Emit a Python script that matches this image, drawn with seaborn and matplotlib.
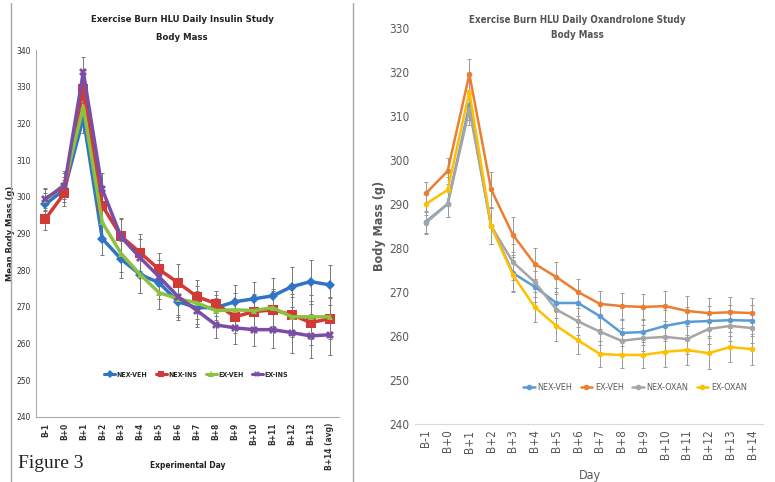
import matplotlib
matplotlib.use("Agg")
import matplotlib.pyplot as plt
import seaborn as sns
import pandas as pd
import numpy as np
from matplotlib.lines import Line2D

sns.set_theme(style="white")
plt.rcParams['font.family'] = ['Liberation Sans', 'DejaVu Sans']

# ---------------- Left panel data (Insulin study) ----------------
ins_days = ["B-1", "B+0", "B+1", "B+2", "B+3", "B+4", "B+5", "B+6", "B+7", "B+8",
            "B+9", "B+10", "B+11", "B+12", "B+13", "B+14 (avg)"]
ins_groups = ["NEX-VEH", "NEX-INS", "EX-VEH", "EX-INS"]
nex_veh_ins = [298.0, 302.0, 321.5, 288.6, 283.0, 278.8, 276.6, 271.4, 269.8, 269.8,
               271.4, 272.2, 273.0, 275.5, 276.9, 276.0]
nex_ins = [294.0, 301.0, 329.5, 297.6, 289.2, 284.8, 280.2, 276.6, 272.8, 270.9,
           267.3, 268.7, 269.2, 267.9, 265.7, 266.8]
ex_veh_ins = [299.0, 303.5, 324.5, 293.0, 284.5, 278.8, 273.9, 272.2, 271.1, 269.0,
              269.2, 269.0, 269.8, 267.3, 267.3, 267.3]
ex_ins = [299.5, 303.0, 334.0, 302.0, 289.0, 283.4, 278.2, 272.8, 269.0, 265.1,
          264.3, 263.8, 263.8, 263.0, 262.1, 262.4]
ins_err = [3.0, 3.5, 4.0, 4.5, 5.0, 5.0, 4.5, 5.0, 4.5, 3.5, 4.5, 4.5, 5.0, 5.5, 6.0, 5.5]

# ---------------- Right panel data (Oxandrolone study) ----------------
ox_days = ["B-1", "B+0", "B+1", "B+2", "B+3", "B+4", "B+5", "B+6", "B+7", "B+8",
           "B+9", "B+10", "B+11", "B+12", "B+13", "B+14"]
ox_groups = ["NEX-VEH", "EX-VEH", "NEX-OXAN", "EX-OXAN"]
nex_veh_ox = [286.0, 290.0, 312.5, 285.0, 274.3, 271.2, 267.5, 267.5, 264.5, 260.7,
              260.9, 262.3, 263.2, 263.4, 263.6, 263.5]
ex_veh_ox = [292.4, 297.5, 319.5, 293.3, 283.0, 276.4, 273.4, 270.0, 267.3, 266.8,
             266.6, 266.8, 265.7, 265.2, 265.4, 265.2]
nex_oxan = [285.7, 290.0, 311.5, 285.0, 276.8, 272.3, 266.0, 263.3, 261.0, 258.9,
            259.5, 259.8, 259.3, 261.6, 262.3, 261.8]
ex_oxan = [290.0, 293.2, 315.5, 285.0, 273.9, 266.6, 262.3, 259.0, 255.9, 255.7,
           255.7, 256.4, 256.8, 256.1, 257.5, 257.0]
ox_err = [2.5, 3.0, 3.5, 4.0, 4.0, 3.5, 3.5, 3.0, 3.0, 3.0, 3.0, 3.5, 3.5, 3.5, 3.5, 3.5]

W, H = 775, 482
fig = plt.figure(figsize=(W / 100, H / 100), dpi=100)
fig.patch.set_facecolor("white")


def ax_rect(x0, y0, x1, y1):
    return [x0 / W, 1 - y1 / H, (x1 - x0) / W, (y1 - y0) / H]


narrow = ['DejaVu Sans']
cond = dict(family=narrow, stretch="condensed")

# ================= LEFT PANEL =================
axL = fig.add_axes(ax_rect(36, 50, 339, 417))
ins_colors = ["#2f74c6", "#d23a35", "#8cc23f", "#7a4ea6"]
ins_markers = ["D", "s", "^", "X"]
ins_msize = [5, 7, 5, 6]
ins_vals = [nex_veh_ins, nex_ins, ex_veh_ins, ex_ins]
xL = np.arange(len(ins_days))
dfL = pd.DataFrame({
    "x": np.tile(xL, 4),
    "mass": np.concatenate(ins_vals),
    "group": np.repeat(ins_groups, len(ins_days)),
})
for v in ins_vals:
    axL.errorbar(xL, v, yerr=ins_err, fmt="none", ecolor="#777777", elinewidth=0.7,
                 capsize=1.5, capthick=0.7, zorder=2)
sns.lineplot(data=dfL, x="x", y="mass", hue="group", hue_order=ins_groups,
             palette=ins_colors, style="group", style_order=ins_groups,
             markers=dict(zip(ins_groups, ins_markers)), dashes=False,
             linewidth=2.5, markersize=6, markeredgewidth=0, ax=axL, legend=False,
             zorder=3)
for line, ms in zip(axL.get_lines()[-4:], ins_msize):
    line.set_markersize(ms)
axL.set_xlim(-0.5, len(ins_days) - 0.5)
axL.set_ylim(240, 340)
axL.set_yticks(np.arange(240, 341, 10))
axL.set_yticklabels([str(t) for t in range(240, 341, 10)], fontsize=6,
                    color="#333333", **cond)
axL.set_xticks(xL)
axL.set_xticklabels(ins_days, rotation=90, fontsize=6, fontweight="bold",
                    color="#333333", va="top", **cond)
axL.set_xlabel("")
axL.set_ylabel("Mean Body Mass (g)", fontsize=6, fontweight="bold",
               family=['DejaVu Sans'])
axL.yaxis.set_label_coords((15 - 36) / (339 - 36), 0.5)
for s in ["top", "right"]:
    axL.spines[s].set_visible(False)
for s in ["left", "bottom"]:
    axL.spines[s].set_color("#aaaaaa")
    axL.spines[s].set_linewidth(0.8)
axL.tick_params(axis="both", length=2, width=0.6, color="#aaaaaa", pad=2)
axL.set_facecolor("white")
axL.grid(False)
fig.text(188 / W, 1 - 466 / H, "Experimental Day", ha="center", va="center",
         fontsize=6, fontweight="bold", color="#222222", **cond)
fig.text(182 / W, 1 - 20 / H, "Exercise Burn HLU Daily Insulin Study", ha="center",
         va="center", fontsize=6.8, fontweight="bold", color="#222222", **cond)
fig.text(182 / W, 1 - 37 / H, "Body Mass", ha="center", va="center", fontsize=6.8,
         fontweight="bold", color="#222222", **cond)
handlesL = [Line2D([], [], color=c, marker=m, lw=2.2, markersize=4, markeredgewidth=0)
            for c, m in zip(ins_colors, ins_markers)]
axL.legend(handlesL, ins_groups, loc="center", bbox_to_anchor=((196 - 36) / 303, 0.115),
           ncol=4, frameon=False, handlelength=1.6, columnspacing=1.2,
           handletextpad=0.2, prop={'family': narrow, 'stretch': 'condensed',
                                    'weight': 'bold', 'size': 5})

# Frame lines around left panel
fig.add_artist(Line2D([11 / W, 11 / W], [0, 1 - 3 / H], color="#a8a8a8", lw=1.0))
fig.add_artist(Line2D([353 / W, 353 / W], [0, 1 - 3 / H], color="#a8a8a8", lw=1.0))
fig.text(18 / W, 1 - 463 / H, "Figure 3", fontsize=14,
         family=['Liberation Serif', 'DejaVu Serif'],
         ha="left", va="center", color="#222222")

# ================= RIGHT PANEL =================
axR = fig.add_axes(ax_rect(415, 28, 763, 424))
ox_colors = ["#5b9bd5", "#ed7d31", "#a5a5a5", "#ffc000"]
ox_vals = [nex_veh_ox, ex_veh_ox, nex_oxan, ex_oxan]
xR = np.arange(len(ox_days))
dfR = pd.DataFrame({
    "x": np.tile(xR, 4),
    "mass": np.concatenate(ox_vals),
    "group": np.repeat(ox_groups, len(ox_days)),
})
for v in ox_vals:
    axR.errorbar(xR, v, yerr=ox_err, fmt="none", ecolor="#9a9a9a", elinewidth=0.7,
                 capsize=1.5, capthick=0.7, zorder=2)
sns.lineplot(data=dfR, x="x", y="mass", hue="group", hue_order=ox_groups,
             palette=ox_colors, marker="o", markersize=4, markeredgewidth=0,
             linewidth=1.8, ax=axR, legend=False, zorder=3)
axR.set_xlim(-0.5, len(ox_days) - 0.5)
axR.set_ylim(240, 330)
axR.set_yticks(np.arange(240, 331, 10))
axR.set_yticklabels([str(t) for t in range(240, 331, 10)], fontsize=8.5,
                    color="#595959", **cond)
axR.set_xticks(xR)
axR.set_xticklabels(ox_days, rotation=90, fontsize=8.5, color="#595959", **cond)
axR.set_xlabel("")
axR.set_ylabel("Body Mass (g)", fontsize=9, fontweight="bold", color="#595959", **cond)
axR.yaxis.set_label_coords((386 - 415) / (763 - 415), 0.5)
for s in ["top", "right", "left"]:
    axR.spines[s].set_visible(False)
axR.spines["bottom"].set_color("#d9d9d9")
axR.spines["bottom"].set_linewidth(0.8)
axR.tick_params(axis="both", length=0, pad=4)
axR.set_facecolor("white")
axR.grid(False)
fig.text(590 / W, 1 - 475 / H, "Day", ha="center", va="center", fontsize=9,
         color="#595959", **cond)
fig.text(577 / W, 1 - 20 / H, "Exercise Burn HLU Daily Oxandrolone Study", ha="center",
         va="center", fontsize=7, color="#555555", fontweight="semibold", **cond)
fig.text(577 / W, 1 - 35 / H, "Body Mass", ha="center", va="center", fontsize=7,
         color="#555555", fontweight="semibold", **cond)
handlesR = [Line2D([], [], color=c, marker="o", lw=1.8, markersize=4, markeredgewidth=0)
            for c in ox_colors]
axR.legend(handlesR, ox_groups, loc="center",
           bbox_to_anchor=((635 - 415) / 348, (424 - 388) / 396),
           ncol=4, frameon=False, handlelength=1.3, columnspacing=0.9,
           handletextpad=0.3, labelcolor="#595959",
           prop={'family': narrow, 'stretch': 'condensed', 'size': 6.5})

fig.savefig("out.png", dpi=100, facecolor="white")
